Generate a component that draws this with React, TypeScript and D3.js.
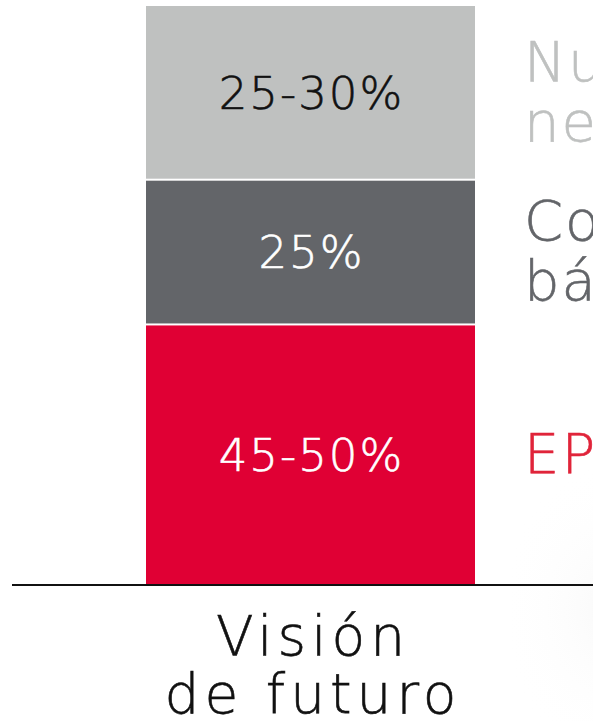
import React from "react";
import * as d3 from "d3";

const categories = ["Visión de futuro"];
const segmentKeys = ["epc", "core", "nuevos"];
const segmentValues = [45, 25, 30];
const segmentLabels = ["45-50%", "25%", "25-30%"];
const sideLabels = [["EPC"], ["Core", "básico"], ["Nuevos", "negocios"]];
const segmentColors = ["#e00034", "#636569", "#bfc1c0"];
const innerTextColors = ["#ffffff", "#ffffff", "#111111"];
const sideTextColors = ["#e0243a", "#636569", "#bfc1c0"];

const W = 593;
const H = 721;
const FONT = "'DejaVu Sans ExtraLight', 'DejaVu Sans', sans-serif";

export default function App() {
  const y = d3.scaleLinear().domain([0, 100]).range([585, 6]);
  const x = d3.scaleBand().domain(categories).range([146, 475]).padding(0);

  const row: any = { cat: categories[0] };
  segmentKeys.forEach((k, i) => (row[k] = segmentValues[i]));
  const stacked = d3.stack().keys(segmentKeys)([row]);

  const bw = x.bandwidth();
  const x0 = x(categories[0]) as number;
  const cx = x0 + bw / 2;

  return (
    <svg
      width={W}
      height={H}
      style={{ position: "absolute", left: 0, top: 0, background: "#fff" }}
    >
      <defs>
        <radialGradient id="shade" cx="0.5" cy="0.5" r="0.5">
          <stop offset="0%" stopColor="#f5f5f5" stopOpacity={0.6} />
          <stop offset="100%" stopColor="#ffffff" stopOpacity={0} />
        </radialGradient>
      </defs>
      <ellipse cx={610} cy={610} rx={110} ry={150} fill="url(#shade)" />
      {stacked.map((s, i) => {
        const d = s[0];
        const top = y(d[1]);
        const bot = y(d[0]);
        const isBottom = i === 0;
        const isTop = i === stacked.length - 1;
        const yTop = isTop ? top : top + 1;
        const yBot = isBottom ? bot : bot - 1;
        const mid = (top + bot) / 2;
        const lines = sideLabels[i];
        const lh = 60;
        const startY = mid + 18 - ((lines.length - 1) * lh) / 2;
        return (
          <g key={segmentKeys[i]}>
            <rect
              x={x0}
              y={yTop}
              width={bw}
              height={yBot - yTop}
              fill={segmentColors[i]}
            />
            <text
              x={cx + 1}
              y={mid + 16}
              textAnchor="middle"
              fontFamily={FONT}
              fontWeight={200}
              fontSize={45}
              letterSpacing={2}
              fill={innerTextColors[i]}
              stroke={innerTextColors[i]}
              strokeWidth={0.6}
            >
              {segmentLabels[i]}
            </text>
            <text
              x={524}
              fontFamily={FONT}
              fontWeight={200}
              fontSize={56}
              letterSpacing={2}
              fill={sideTextColors[i]}
              stroke={sideTextColors[i]}
              strokeWidth={0.6}
            >
              {lines.map((l, j) => (
                <tspan key={j} x={524} y={startY + j * lh}>
                  {l}
                </tspan>
              ))}
            </text>
          </g>
        );
      })}
      <line x1={12} x2={593} y1={585} y2={585} stroke="#111" strokeWidth={2} />
      <text
        x={cx}
        textAnchor="middle"
        fontFamily={FONT}
        fontWeight={200}
        fontSize={55}
        letterSpacing={5}
        fill="#111"
        stroke="#111"
        strokeWidth={0.6}
      >
        <tspan x={cx + 2.5} y={655}>Visión</tspan>
        <tspan x={cx + 2.5} y={713}>de futuro</tspan>
      </text>
    </svg>
  );
}
